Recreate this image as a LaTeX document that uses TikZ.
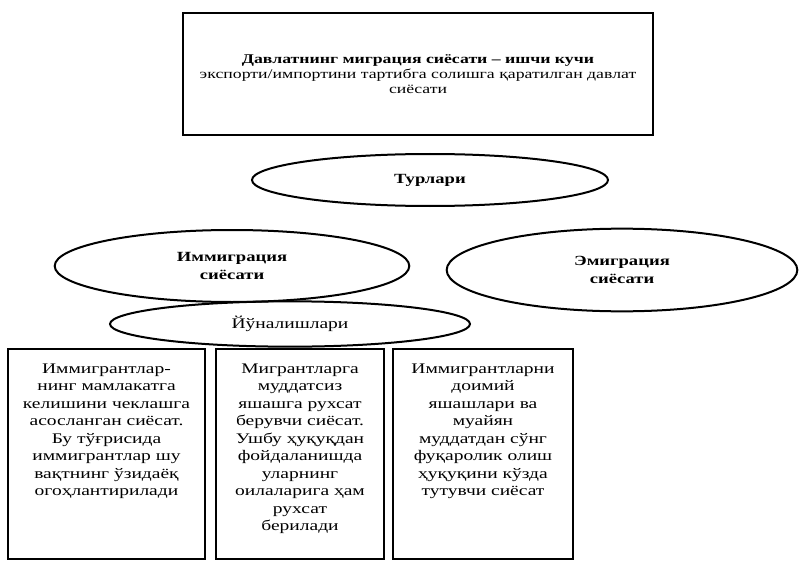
\documentclass[tikz,border=0pt]{standalone}
\usepackage{fontspec}
\setmainfont{Liberation Serif}[FakeStretch=1.33]
\usetikzlibrary{shapes.geometric}

\tikzset{
    chiziq/.style={line width=1.5pt},
    oval/.style={chiziq, draw, ellipse, inner sep=0pt, align=center,
        font=\bfseries\fontsize{10.5}{14}\selectfont},
    quti/.style={chiziq, draw, rectangle, anchor=north, inner xsep=4pt, inner ysep=11pt,
        font=\fontsize{11}{13.1}\selectfont},
}
% matn qutining tepasidan boshlanadi
\newcommand{\qutimatn}[2]{\parbox[t][135.5pt][t]{#1}{\centering #2}}

\begin{document}
\begin{tikzpicture}[x=0.75pt, y=-0.75pt]
    \useasboundingbox (0,0) rectangle (799,563);
    % Ta'rif
    \node[chiziq, draw, rectangle, minimum width=352pt, minimum height=92pt, align=center,
        font=\fontsize{10}{11.25}\selectfont] (tarif) at (418,74)
        {\textbf{Давлатнинг миграция сиёсати – ишчи кучи}\\
         экспорти/импортини тартибга солишга қаратилган давлат\\
         сиёсати};
    % Турлари
    \node[oval, minimum width=267pt, minimum height=39pt] (turlari) at (430,180) {Турлари};
    \node[oval, minimum width=266pt, minimum height=54pt] (immig) at (232,266)
        {Иммиграция\\сиёсати};
    \node[oval, minimum width=263pt, minimum height=62pt] (emig) at (622,270)
        {Эмиграция\\сиёсати};
    % Йўналишлари
    \node[oval, minimum width=270pt, minimum height=34pt, font=\fontsize{11}{13}\selectfont]
        (yunalish) at (290,324) {Йўналишлари};
    % Йўналишлар қутилари
    \node[quti, minimum width=148pt] (cheklov) at (106.5,348)
        {\qutimatn{138pt}{Иммигрантлар-\\нинг мамлакатга\\келишини чеклашга\\асосланган сиёсат.\\
         Бу тўғрисида\\иммигрантлар шу\\вақтнинг ўзидаёқ\\огоҳлантирилади}};
    \node[quti, minimum width=126pt] (muddatsiz) at (300,348)
        {\qutimatn{117pt}{Мигрантларга\\муддатсиз\\яшашга рухсат\\берувчи сиёсат.\\
         Ушбу ҳуқуқдан\\фойдаланишда\\уларнинг\\оилаларига ҳам\\рухсат\\берилади}};
    \node[quti, minimum width=135pt] (fuqarolik) at (483,348)
        {\qutimatn{126pt}{Иммигрантларни\\доимий\\яшашлари ва\\муайян\\
         муддатдан сўнг\\фуқаролик олиш\\ҳуқуқини кўзда\\тутувчи сиёсат}};
\end{tikzpicture}
\end{document}
